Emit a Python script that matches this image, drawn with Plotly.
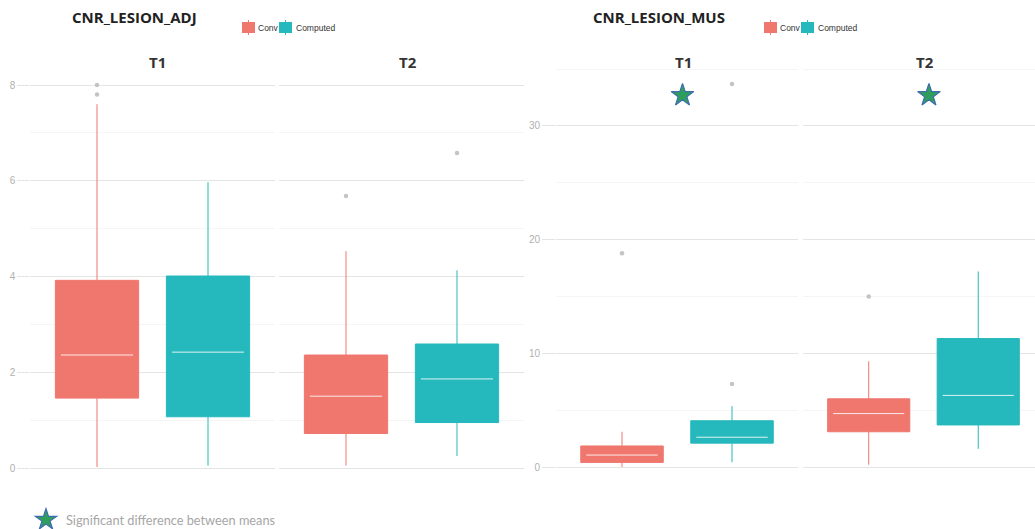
import plotly.graph_objects as go

# ---------------- data ----------------
periods = ["T1", "T2"]
groups = ["Conv", "Computed"]

# CNR_LESION_ADJ  (per period T1, T2)
adj_conv_lower = [0.02, 0.05]
adj_conv_q1 = [1.46, 0.72]
adj_conv_median = [2.36, 1.50]
adj_conv_q3 = [3.92, 2.36]
adj_conv_upper = [7.60, 4.53]
adj_conv_outliers = [[8.0, 7.8], [5.68]]

adj_comp_lower = [0.05, 0.25]
adj_comp_q1 = [1.07, 0.95]
adj_comp_median = [2.42, 1.86]
adj_comp_q3 = [4.01, 2.59]
adj_comp_upper = [5.97, 4.13]
adj_comp_outliers = [[], [6.58]]

# CNR_LESION_MUS
mus_conv_lower = [0.0, 0.2]
mus_conv_q1 = [0.40, 3.1]
mus_conv_median = [1.05, 4.7]
mus_conv_q3 = [1.85, 6.0]
mus_conv_upper = [3.1, 9.3]
mus_conv_outliers = [[18.8], [15.0]]

mus_comp_lower = [0.42, 1.6]
mus_comp_q1 = [2.1, 3.7]
mus_comp_median = [2.62, 6.3]
mus_comp_q3 = [4.07, 11.3]
mus_comp_upper = [5.35, 17.2]
mus_comp_outliers = [[7.3, 33.7], []]

# significance markers (right panel, both periods)
signif_periods = ["T1", "T2"]
signif_y = [32.7, 32.7]

adj_ticks = [0, 2, 4, 6, 8]
mus_ticks = [0, 10, 20, 30]

# ---------------- styling ----------------
W, H = 1035, 529
def px(x):
    return x / W
def py(y):
    return 1 - y / H

colors = {"Conv": "#EF776E", "Computed": "#25B8BC"}
outlier_color = "#C4C4C4"
grid_major = "#E4E4E4"
grid_minor = "#F5F5F5"
tick_font = dict(family="Liberation Sans", size=10, color="#B0B0B0")
box_w = 0.75
pos = {"Conv": 1, "Computed": 2}

panels = [
    dict(name="CNR_LESION_ADJ", xaxes=["x", "x2"], yaxis="y",
         stats={"Conv": (adj_conv_lower, adj_conv_q1, adj_conv_median, adj_conv_q3, adj_conv_upper, adj_conv_outliers),
                "Computed": (adj_comp_lower, adj_comp_q1, adj_comp_median, adj_comp_q3, adj_comp_upper, adj_comp_outliers)}),
    dict(name="CNR_LESION_MUS", xaxes=["x3", "x4"], yaxis="y2",
         stats={"Conv": (mus_conv_lower, mus_conv_q1, mus_conv_median, mus_conv_q3, mus_conv_upper, mus_conv_outliers),
                "Computed": (mus_comp_lower, mus_comp_q1, mus_comp_median, mus_comp_q3, mus_comp_upper, mus_comp_outliers)}),
]

fig = go.Figure()

for panel in panels:
    for pi, period in enumerate(periods):
        xa = panel["xaxes"][pi]
        ya = panel["yaxis"]
        for g in groups:
            lo, q1, med, q3, up, outl = panel["stats"][g]
            p = pos[g]
            fig.add_trace(go.Box(
                x=[p], lowerfence=[lo[pi]], q1=[q1[pi]], median=[med[pi]],
                q3=[q3[pi]], upperfence=[up[pi]],
                width=box_w, whiskerwidth=0, boxpoints=False,
                fillcolor=colors[g], line=dict(color=colors[g], width=1),
                name=g, legendgroup=g, showlegend=False,
                xaxis=xa, yaxis=ya, hoverinfo="skip",
            ))
            # median line in white
            fig.add_trace(go.Scatter(
                x=[p - box_w / 2 + 0.05, p + box_w / 2 - 0.05], y=[med[pi], med[pi]],
                mode="lines", line=dict(color="rgba(255,255,255,0.85)", width=1),
                showlegend=False, xaxis=xa, yaxis=ya, hoverinfo="skip",
            ))
            if outl[pi]:
                fig.add_trace(go.Scatter(
                    x=[p] * len(outl[pi]), y=outl[pi], mode="markers",
                    marker=dict(color=outlier_color, size=4.5),
                    showlegend=False, xaxis=xa, yaxis=ya, hoverinfo="skip",
                ))

# significance stars
for i, period in enumerate(signif_periods):
    xa = ["x3", "x4"][periods.index(period)]
    fig.add_trace(go.Scatter(
        x=[1.55], y=[signif_y[i]], mode="markers",
        marker=dict(symbol="star", size=17, color="#2E9E5B",
                    line=dict(color="#3F6DB0", width=1.2)),
        name="Significant difference between means",
        showlegend=(i == 0), legend="legend",
        xaxis=xa, yaxis="y2", hoverinfo="skip",
    ))

top_px, bot_px = 64, 487
adj_zero, adj_scale = 468.0, 47.875
mus_zero, mus_scale = 467.0, 11.367
ydom = [py(bot_px), py(top_px)]

hidden_x = dict(showticklabels=False, showgrid=False, zeroline=False, showline=False, ticks="")

def yax(anchor, rng, tickvals, minor_dtick, ticklen):
    return dict(anchor=anchor, domain=ydom, range=rng, tickvals=tickvals,
                showgrid=True, gridcolor=grid_major, gridwidth=1,
                minor=dict(showgrid=True, gridcolor=grid_minor, dtick=minor_dtick, ticks=""),
                ticks="outside", ticklen=ticklen, tickcolor=grid_major, tickwidth=1,
                tickfont=tick_font, zeroline=False, showline=False)

fig.update_layout(
    width=W, height=H,
    margin=dict(l=0, r=0, t=0, b=0, autoexpand=False),
    paper_bgcolor="white", plot_bgcolor="white",
    xaxis=dict(domain=[px(30.4), px(274.6)], range=[0.4, 2.6], anchor="y", **hidden_x),
    xaxis2=dict(domain=[px(279.4), px(523.6)], range=[0.4, 2.6], anchor="y", **hidden_x),
    xaxis3=dict(domain=[px(556), px(798)], range=[0.4, 2.6], anchor="y2", **hidden_x),
    xaxis4=dict(domain=[px(803), 1.0], range=[0.4, 1 + (1035 - 868) / 110.0], anchor="y2", **hidden_x),
    yaxis=yax("x", [-(bot_px - adj_zero) / adj_scale, (adj_zero - top_px) / adj_scale], adj_ticks, 1, 12),
    yaxis2=yax("x3", [-(bot_px - mus_zero) / mus_scale, (mus_zero - top_px) / mus_scale], mus_ticks, 5, 13),
    legend=dict(x=px(26), y=py(505), xanchor="left", yanchor="top", orientation="h",
                font=dict(family="Lato", size=12.75, color="#A6A6A6"),
                itemwidth=30, bgcolor="rgba(0,0,0,0)"),
    showlegend=True,
)

# manual compact legends (ggplot-style keys) for Conv / Computed
shapes = []
legend_ann = []
legend_specs = [
    # (key1_x0, text1_x, key2_x0, text2_x)
    (242, 257, 279, 295),
    (764, 779, 801, 817),
]
for k1, t1, k2, t2 in legend_specs:
    for g, kx, tx in (("Conv", k1, t1), ("Computed", k2, t2)):
        shapes.append(dict(type="rect", xref="paper", yref="paper",
                           x0=px(kx), x1=px(kx + 13), y0=py(33), y1=py(22),
                           fillcolor=colors[g], line=dict(width=0), layer="above"))
        shapes.append(dict(type="line", xref="paper", yref="paper",
                           x0=px(kx + 6.5), x1=px(kx + 6.5), y0=py(35), y1=py(20),
                           line=dict(color=colors[g], width=1), layer="above"))
        legend_ann.append(dict(text=g, x=px(tx), y=py(28), xanchor="left", yanchor="middle",
                               xref="paper", yref="paper", showarrow=False, borderpad=0,
                               font=dict(family="Liberation Sans", size=8.5, color="#333333")))

title_font = dict(family="Open Sans", size=15, color="#222222")
strip_font = dict(family="Open Sans", size=15, color="#333333")
annotations = [
    dict(text="<b>CNR_LESION_ADJ</b>", x=px(134), y=py(17)),
    dict(text="<b>CNR_LESION_MUS</b>", x=px(659), y=py(17)),
]
for a in annotations:
    a.update(xref="paper", yref="paper", showarrow=False, font=title_font,
             xanchor="center", yanchor="middle")
strips = [
    dict(text="<b>T1</b>", x=px(157), y=py(62)),
    dict(text="<b>T2</b>", x=px(408), y=py(62)),
    dict(text="<b>T1</b>", x=px(683), y=py(62)),
    dict(text="<b>T2</b>", x=px(925), y=py(62)),
]
for s in strips:
    s.update(xref="paper", yref="paper", showarrow=False, font=strip_font,
             xanchor="center", yanchor="middle")
fig.update_layout(annotations=annotations + strips + legend_ann, shapes=shapes)

fig.write_html(
    "out.html",
    config={"displayModeBar": False},
    post_script="document.body.style.margin='0';document.body.style.padding='0';"
                "document.documentElement.style.overflow='hidden';",
)
